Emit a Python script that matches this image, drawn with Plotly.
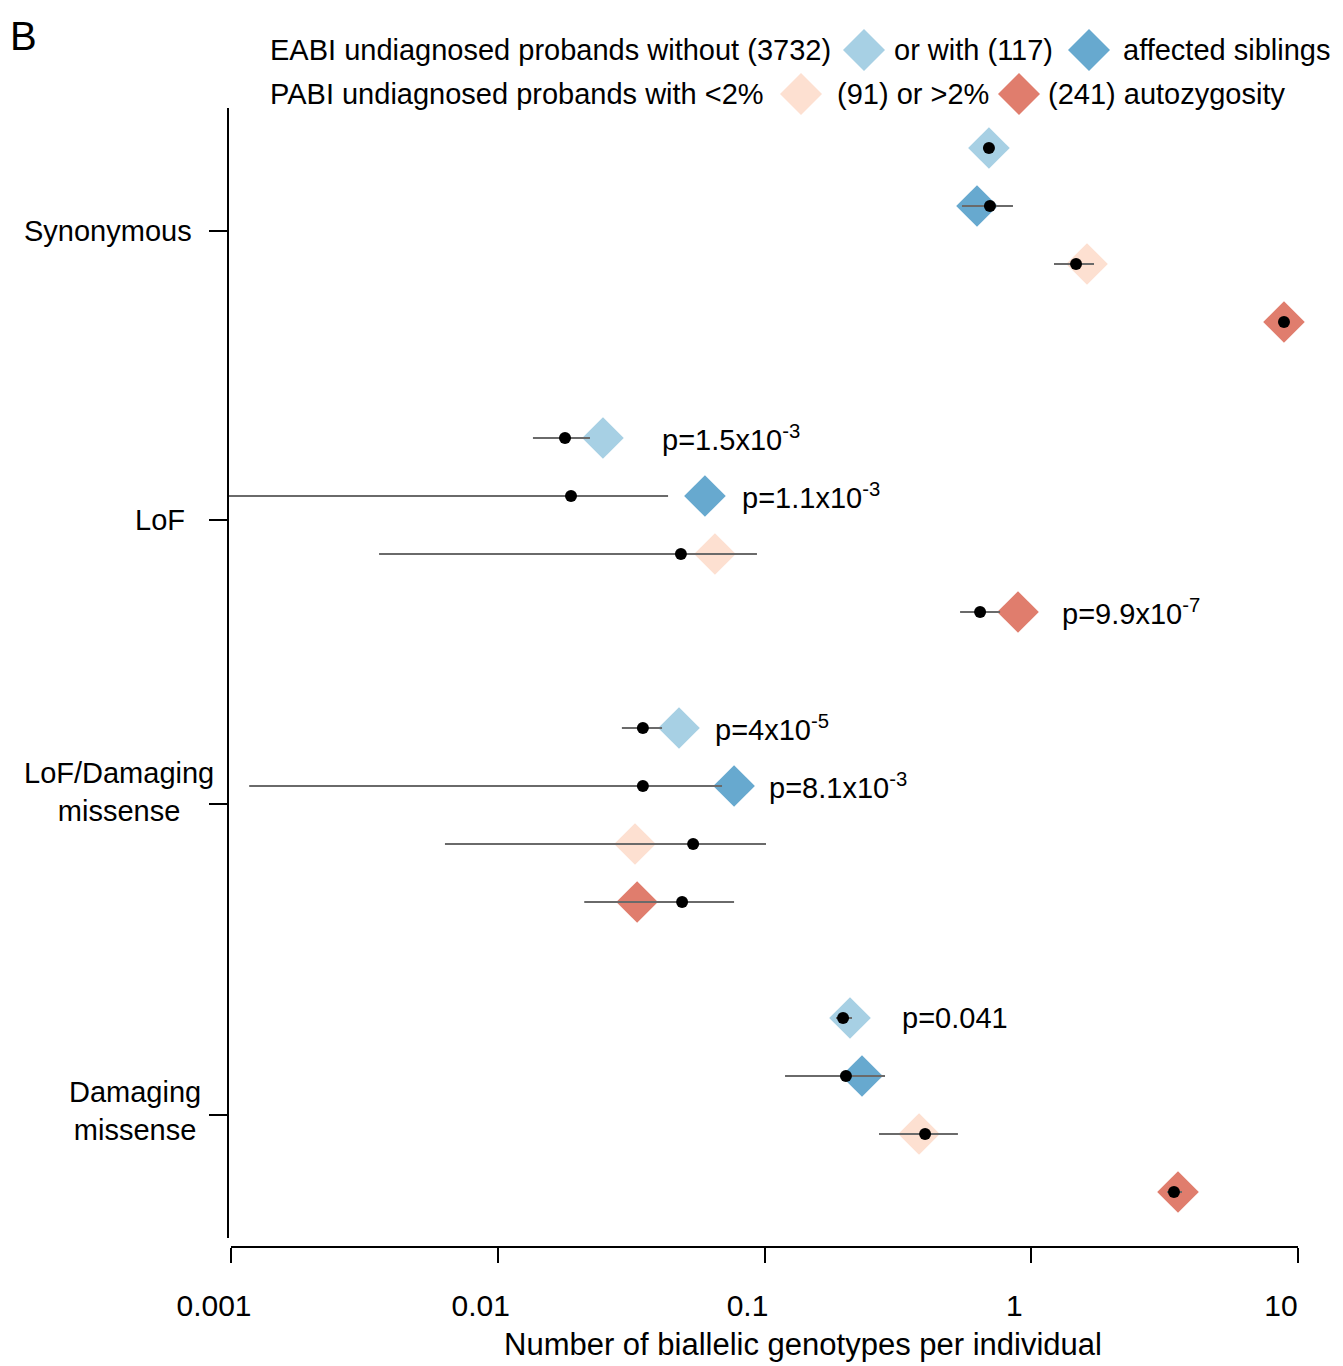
import numpy as np
import plotly.graph_objects as go

# ---------------- data ----------------
categories = ["Synonymous", "LoF", "LoF/Damaging<br>missense", "Damaging<br>missense"]
series_names = [
    "EABI undiagnosed probands without affected siblings (3732)",
    "EABI undiagnosed probands with affected siblings (117)",
    "PABI undiagnosed probands with <2% autozygosity (91)",
    "PABI undiagnosed probands with >2% autozygosity (241)",
]
series_colors = ["#a7d0e4", "#67a9cf", "#fde0d1", "#e07d6d"]

# observed (diamonds), one value per category
observed = [
    [0.694, 0.0248, 0.0478, 0.2092],   # EABI without
    [0.626, 0.0598, 0.0769, 0.232],    # EABI with
    [1.618, 0.0652, 0.0327, 0.3796],   # PABI <2%
    [8.86, 0.892, 0.0333, 3.549],      # PABI >2%
]
# expected (black dots) with interval
expected = [
    [0.694, 0.01787, 0.0350, 0.197],
    [0.700, 0.01882, 0.0350, 0.202],
    [1.472, 0.0486, 0.0540, 0.400],
    [8.86, 0.643, 0.0491, 3.428],
]
expected_low = [
    [0.665, 0.01355, 0.0292, 0.1854],
    [0.550, 0.00098, 0.00117, 0.1194],
    [1.217, 0.00359, 0.00634, 0.2687],
    [8.56, 0.541, 0.0211, 3.228],
]
expected_high = [
    [0.725, 0.02217, 0.0413, 0.2128],
    [0.854, 0.0435, 0.0693, 0.283],
    [1.719, 0.0937, 0.1013, 0.531],
    [9.17, 0.764, 0.0769, 3.674],
]

# p-value labels: (series index, category index, text, x where text starts)
p_series = [0, 1, 3, 0, 1, 0]
p_category = [1, 1, 1, 2, 2, 3]
p_text = ["p=1.5x10<sup>-3</sup>", "p=1.1x10<sup>-3</sup>", "p=9.9x10<sup>-7</sup>",
          "p=4x10<sup>-5</sup>", "p=8.1x10<sup>-3</sup>", "p=0.041"]
p_label_x = [0.0405, 0.0809, 1.28, 0.0641, 0.102, 0.322]

x_tickvals = [0.001, 0.01, 0.1, 1, 10]
x_ticktext = ["0.001", "0.01", "0.1", "1", "10"]
x_title = "Number of biallelic genotypes per individual"

# ---------------- layout geometry ----------------
W, H = 1343, 1366
PL, PR, PT, PB = 228, 1305, 108, 1247   # plot area in px
FONT = "Liberation Sans, Arial, Helvetica, sans-serif"
FS = 29
px_per_decade = (1298 - 231) / 4.0
x_range = [-3 - (231 - PL) / px_per_decade, 1 + (PR - 1298) / px_per_decade]
row_px = 58.0
y_top = -(148 - PT) / row_px
y_bottom = y_top + (PB - PT) / row_px
group_stride = 5
y_tick_pos = [1.43, 6.41, 11.31, 16.67]
y_label_pos = [1.43, 6.41, 11.1, 16.6]
y_label_px = [108, 160, 119, 135]


def paper_x(px):
    return (px - PL) / (PR - PL)


def paper_y(py):
    return (PB - py) / (PB - PT)


def row(series_i, cat_i):
    return cat_i * group_stride + series_i


fig = go.Figure()

# diamonds (observed)
for s in range(4):
    fig.add_trace(go.Scatter(
        x=observed[s], y=[row(s, c) for c in range(4)],
        mode="markers", name=series_names[s],
        marker=dict(symbol="diamond", size=32, color=series_colors[s], line=dict(width=0)),
        showlegend=False, hoverinfo="x+name",
    ))

# expected dots with intervals
for s in range(4):
    e = np.array(expected[s])
    lo = np.array(expected_low[s])
    hi = np.array(expected_high[s])
    fig.add_trace(go.Scatter(
        x=e, y=[row(s, c) for c in range(4)],
        mode="markers", name=series_names[s] + " expected",
        marker=dict(symbol="circle", size=12, color="black"),
        error_x=dict(type="data", symmetric=False, array=hi - e, arrayminus=e - lo,
                     color="#6a6a6a", thickness=2, width=0),
        showlegend=False,
    ))

annotations = []
# p-value annotations
for s, c, t, xv in zip(p_series, p_category, p_text, p_label_x):
    annotations.append(dict(x=np.log10(xv), y=row(s, c), xref="x", yref="y", text=t,
                            showarrow=False, xanchor="left", yanchor="middle",
                            font=dict(family=FONT, size=FS, color="black")))

# category labels (centered multi-line, left of the axis)
for cat, yp, xp in zip(categories, y_label_pos, y_label_px):
    annotations.append(dict(x=paper_x(xp), y=yp, xref="paper", yref="y", text=cat,
                            showarrow=False, xanchor="center", yanchor="middle", align="center",
                            font=dict(family=FONT, size=FS, color="black")))

# legend texts
leg_rows = [
    [("EABI undiagnosed probands without (3732)", 268), ("or with (117)", 892), ("affected siblings", 1121)],
    [("PABI undiagnosed probands with <2%", 268), ("(91) or >2%", 835), ("(241) autozygosity", 1046)],
]
leg_y = [50, 94]
for items, ly in zip(leg_rows, leg_y):
    for txt, lx in items:
        annotations.append(dict(x=paper_x(lx), y=paper_y(ly), xref="paper", yref="paper", text=txt,
                                showarrow=False, xanchor="left", yanchor="middle",
                                font=dict(family=FONT, size=FS, color="black")))

# panel letter
annotations.append(dict(x=paper_x(8), y=paper_y(36), xref="paper", yref="paper", text="B",
                        showarrow=False, xanchor="left", yanchor="middle",
                        font=dict(family=FONT, size=40, color="black")))

# x title
annotations.append(dict(x=paper_x(803), y=paper_y(1344), xref="paper", yref="paper", text=x_title,
                        showarrow=False, xanchor="center", yanchor="middle",
                        font=dict(family=FONT, size=31, color="black")))

shapes = []
# legend diamonds
leg_diamonds = [(864, 50, 0), (1089, 50, 1), (801, 94, 2), (1019, 94, 3)]
for lx, ly, s in leg_diamonds:
    shapes.append(dict(type="path", xref="paper", yref="paper", xsizemode="pixel", ysizemode="pixel",
                       xanchor=paper_x(lx), yanchor=paper_y(ly),
                       path="M -21 0 L 0 21 L 21 0 L 0 -21 Z",
                       fillcolor=series_colors[s], line=dict(width=0)))
# axis lines (detached style)
shapes.append(dict(type="line", xref="paper", yref="paper",
                   x0=paper_x(231), x1=paper_x(1298), y0=0, y1=0,
                   line=dict(color="black", width=2)))
shapes.append(dict(type="line", xref="paper", yref="paper",
                   x0=0, x1=0, y0=paper_y(1238), y1=1,
                   line=dict(color="black", width=2)))

fig.update_layout(
    width=W, height=H,
    margin=dict(l=PL, r=W - PR, t=PT, b=H - PB, pad=0),
    paper_bgcolor="white", plot_bgcolor="white",
    font=dict(family=FONT, size=FS, color="black"),
    annotations=annotations, shapes=shapes, showlegend=False,
    xaxis=dict(type="log", range=x_range, tickvals=x_tickvals, ticktext=x_ticktext,
               ticks="outside", ticklen=15, tickwidth=1.5, tickcolor="black",
               showgrid=False, zeroline=False, showline=False,
               ticklabelstandoff=17, ticklabelshift=-17,
               tickfont=dict(family=FONT, size=30, color="black")),
    yaxis=dict(range=[y_bottom, y_top], tickvals=y_tick_pos, showticklabels=False,
               ticks="outside", ticklen=18, tickwidth=1.5, tickcolor="black",
               showgrid=False, zeroline=False, showline=False),
)

fig.write_html("out.html", config={"displayModeBar": False},
               post_script="document.body.style.margin='0';document.body.style.overflow='hidden';")
